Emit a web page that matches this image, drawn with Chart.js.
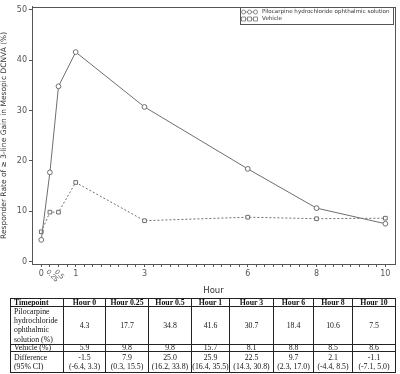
<!DOCTYPE html>
<html>
<head>
<meta charset="utf-8">
<script src="https://cdn.jsdelivr.net/npm/chart.js@4/dist/chart.umd.min.js"></script>
<style>
  html, body { margin: 0; padding: 0; background: #fff; }
  #wrap { position: relative; width: 400px; height: 296px; }
  table { position: absolute; left: 10px; top: 298px; border-collapse: collapse; table-layout: fixed; width: 385px;
          font-family: "Liberation Serif", "Times New Roman", serif; font-size: 7.8px; color: #111;
          -webkit-font-smoothing: antialiased; opacity: 0.999; will-change: transform; background: #fff; }
  td, th { border: 1px solid #222; padding: 0; text-align: center; vertical-align: middle; white-space: nowrap; color: #111; }
  th { font-weight: bold; height: 7px; line-height: 7px; font-size: 7.8px; }
  th:first-child, td:first-child { text-align: left; padding-left: 3px; }
  tr.r1 td { height: 36px; line-height: 9.2px; }
  tr.r2 td { height: 6px; line-height: 6px; }
  tr.r3 td { height: 20px; line-height: 9px; }
</style>
</head>
<body>
<div id="wrap"><canvas id="c" width="400" height="296"></canvas></div>
<table id="tbl">
  <colgroup>
    <col style="width:53px"><col style="width:42px"><col style="width:43px"><col style="width:43px">
    <col style="width:38px"><col style="width:44px"><col style="width:40px"><col style="width:39px"><col style="width:43px">
  </colgroup>
  <thead><tr id="hdr"></tr></thead>
  <tbody>
    <tr class="r1" id="rowP"></tr>
    <tr class="r2" id="rowV"></tr>
    <tr class="r3" id="rowD"></tr>
  </tbody>
</table>
<script>
// ---- data ----
const hours = [0, 0.25, 0.5, 1, 3, 6, 8, 10];
const pilocarpine = [4.3, 17.7, 34.8, 41.6, 30.7, 18.4, 10.6, 7.5];
const vehicle = [5.9, 9.8, 9.8, 15.7, 8.1, 8.8, 8.5, 8.6];
const difference = ["-1.5", "7.9", "25.0", "25.9", "22.5", "9.7", "2.1", "-1.1"];
const diffCI = ["(-6.4, 3.3)", "(0.3, 15.5)", "(16.2, 33.8)", "(16.4, 35.5)", "(14.3, 30.8)", "(2.3, 17.0)", "(-4.4, 8.5)", "(-7.1, 5.0)"];
const timepointLabels = ["Hour 0", "Hour 0.25", "Hour 0.5", "Hour 1", "Hour 3", "Hour 6", "Hour 8", "Hour 10"];
const yTicks = [0, 10, 20, 30, 40, 50];
const xLabelsStraight = [0, 1, 3, 6, 8, 10];
const xLabelsRotated = [0.25, 0.5];
const seriesNames = ["Pilocarpine hydrochloride ophthalmic solution", "Vehicle"];

// ---- table ----
const hdr = document.getElementById('hdr');
hdr.innerHTML = '<th>Timepoint</th>' + timepointLabels.map(t => '<th>' + t + '</th>').join('');
document.getElementById('rowP').innerHTML = '<td>Pilocarpine<br>hydrochloride<br>ophthalmic<br>solution (%)</td>' + pilocarpine.map(v => '<td>' + v.toFixed(1) + '</td>').join('');
document.getElementById('rowV').innerHTML = '<td>Vehicle (%)</td>' + vehicle.map(v => '<td>' + v.toFixed(1) + '</td>').join('');
document.getElementById('rowD').innerHTML = '<td>Difference<br>(95% CI)</td>' + difference.map((v, i) => '<td>' + v + '<br>' + diffCI[i] + '</td>').join('');

// ---- chart ----
const grey = '#6e6e6e';
const xTickVals = [];
for (let i = 0; i <= 40; i++) xTickVals.push(i * 0.25);

const framePlugin = {
  id: 'frame',
  afterDraw(chart) {
    const ctx = chart.ctx, a = chart.chartArea;
    ctx.save();
    ctx.strokeStyle = '#555';
    ctx.lineWidth = 1;
    ctx.strokeRect(Math.round(a.left) + 0.5, Math.round(a.top) + 0.5, Math.round(a.right - a.left), Math.round(a.bottom - a.top));
    // rotated x labels
    const xs = chart.scales.x;
    ctx.fillStyle = '#555';
    ctx.font = '7px "Liberation Sans", sans-serif';
    ctx.textAlign = 'left';
    ctx.textBaseline = 'middle';
    xLabelsRotated.forEach(v => {
      const px = xs.getPixelForValue(v);
      ctx.save();
      ctx.translate(px - 2.5, a.bottom + 7);
      ctx.rotate(Math.PI / 4);
      ctx.fillText(String(v), 0, 0);
      ctx.restore();
    });
    // legend
    const lx = 240, ly = 7, lw = 153, lh = 17;
    ctx.strokeStyle = '#555';
    ctx.strokeRect(lx + 0.5, ly + 0.5, lw, lh);
    ctx.fillStyle = '#333';
    let fs = 7;
    ctx.font = fs + 'px "DejaVu Sans", sans-serif';
    const w = ctx.measureText(seriesNames[0]).width;
    fs = fs * 128 / w;
    ctx.font = fs + 'px "DejaVu Sans", sans-serif';
    chart.data.datasets.forEach((ds, i) => {
      const yy = ly + 5 + i * 7;
      ctx.save();
      ctx.strokeStyle = grey;
      ctx.lineWidth = 0.8;
      ctx.setLineDash(i === 1 ? [1.5, 1.5] : []);
      ctx.beginPath(); ctx.moveTo(lx + 3, yy); ctx.lineTo(lx + 16, yy); ctx.stroke();
      ctx.setLineDash([]);
      [lx + 3.5, lx + 9.5, lx + 15.5].forEach(cx => {
        ctx.fillStyle = '#fff';
        ctx.beginPath();
        if (i === 0) ctx.arc(cx, yy, 2, 0, Math.PI * 2);
        else ctx.rect(cx - 2, yy - 2, 4, 4);
        ctx.fill(); ctx.stroke();
      });
      ctx.restore();
      ctx.fillStyle = '#333';
      ctx.textAlign = 'left';
      ctx.fillText(ds.label, lx + 22, yy);
    });
    ctx.restore();
  }
};

new Chart(document.getElementById('c'), {
  type: 'line',
  data: {
    datasets: [
      {
        label: seriesNames[0],
        data: hours.map((h, i) => ({ x: h, y: pilocarpine[i] })),
        borderColor: grey, borderWidth: 1, pointStyle: 'circle', pointRadius: 2.4,
        pointBackgroundColor: '#fff', pointBorderColor: grey, pointBorderWidth: 1, tension: 0
      },
      {
        label: seriesNames[1],
        data: hours.map((h, i) => ({ x: h, y: vehicle[i] })),
        borderColor: grey, borderWidth: 1, borderDash: [2, 2], pointStyle: 'rect', pointRadius: 2.6,
        pointBackgroundColor: '#fff', pointBorderColor: grey, pointBorderWidth: 1, tension: 0
      }
    ]
  },
  options: {
    responsive: false,
    animation: false,
    layout: { padding: { top: 4, right: 4, left: 0, bottom: 0 } },
    plugins: { legend: { display: false }, tooltip: { enabled: false } },
    scales: {
      x: {
        type: 'linear', min: -0.27, max: 10.28,
        afterBuildTicks: s => { s.ticks = xTickVals.map(v => ({ value: v })); },
        afterFit: s => { s.height = 32; },
        ticks: {
          autoSkip: false, maxRotation: 0, minRotation: 0, padding: 2,
          color: '#555', font: { family: '"DejaVu Sans", sans-serif', size: 8 },
          callback: v => xLabelsStraight.includes(v) ? String(v) : ''
        },
        grid: { drawOnChartArea: false, drawTicks: true, tickLength: 3, color: '#555' },
        border: { display: true, color: '#555' },
        title: { display: true, text: 'Hour', color: '#333', font: { family: '"DejaVu Sans", sans-serif', size: 8.5 }, padding: { top: 4, bottom: 0 } }
      },
      y: {
        min: -0.5, max: 50.6,
        afterBuildTicks: s => { s.ticks = yTicks.map(v => ({ value: v })); },
        afterFit: s => { s.width = 32; },
        ticks: { color: '#555', font: { family: '"DejaVu Sans", sans-serif', size: 8 }, padding: 2 },
        grid: { drawOnChartArea: false, drawTicks: true, tickLength: 3, color: '#555' },
        border: { display: true, color: '#555' },
        title: { display: true, text: 'Responder Rate of \u2265 3-line Gain in Mesopic DCNVA (%)', color: '#333',
                 font: { family: '"DejaVu Sans", sans-serif', size: 7.5 }, padding: { top: 0, bottom: 0 } }
      }
    }
  },
  plugins: [framePlugin]
});
</script>
</body>
</html>
